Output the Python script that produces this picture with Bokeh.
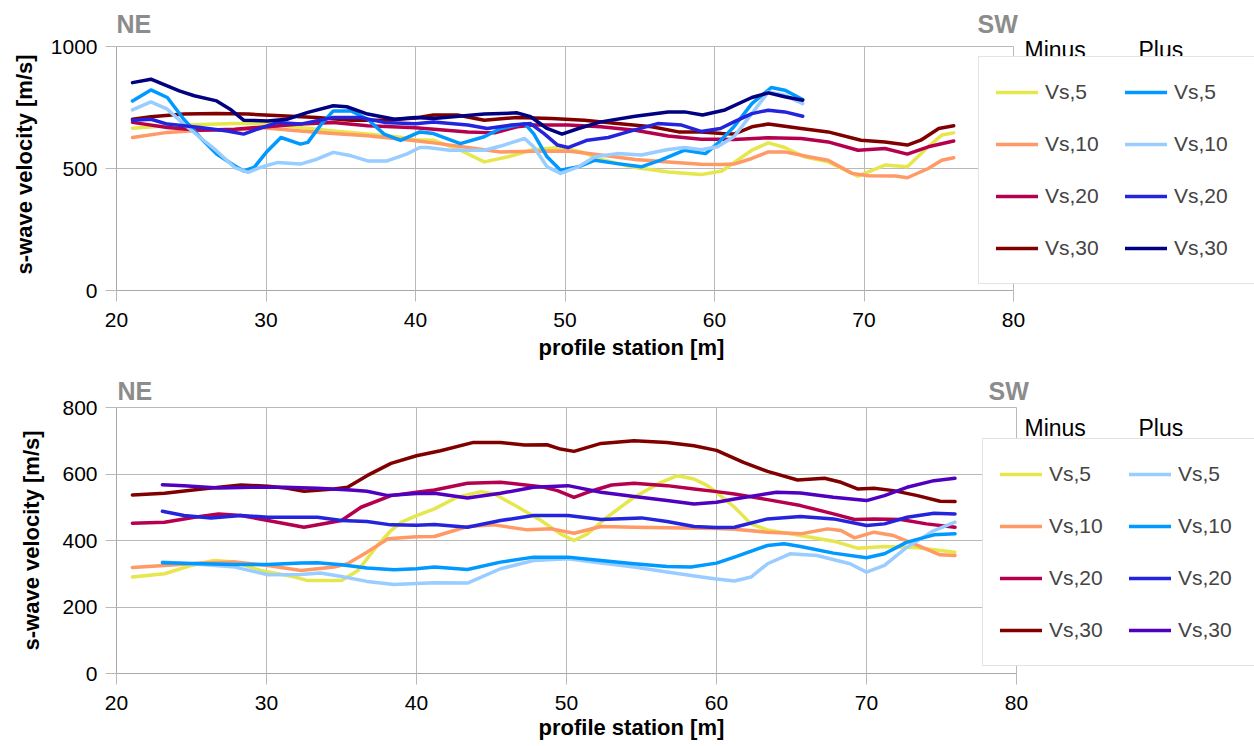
from bokeh.plotting import figure
from bokeh.layouts import column
from bokeh.models import Legend, LegendItem, Label, FixedTicker, Range1d, Title
from bokeh.embed import file_html
from bokeh.resources import INLINE

# ---------------- upper panel: shear-wave velocity (m/s) vs profile station (m)
up_m5_x = [21.07, 23.4, 25.6, 27.9, 30.1, 32.3, 34.5, 36.8, 39.0, 40.0, 41.2, 43.0, 44.6, 46.2, 47.9, 49.7, 51.1, 52.4, 54.7, 56.9, 59.1, 60.5, 62.5, 63.6, 64.7, 66.0, 67.6, 69.6, 71.4, 72.9, 74.3, 75.2, 76.0]
up_m5_v = [665, 675, 680, 684, 684, 668, 654, 641, 628, 618, 616, 575, 527, 548, 578, 586, 568, 537, 504, 486, 475, 490, 575, 605, 586, 548, 527, 469, 514, 507, 589, 637, 646]

up_m10_x = [21.07, 23.4, 25.6, 27.9, 29.6, 32.3, 34.5, 36.8, 40.0, 41.2, 43.5, 45.7, 47.9, 50.2, 52.4, 54.7, 56.9, 59.1, 60.5, 61.3, 62.5, 63.6, 64.7, 66.3, 67.6, 69.2, 70.3, 72.1, 72.9, 74.3, 75.2, 76.0]
up_m10_v = [627, 648, 657, 657, 668, 654, 643, 634, 614, 605, 586, 568, 571, 572, 555, 537, 527, 517, 516, 518, 541, 568, 568, 548, 534, 480, 470, 469, 462, 500, 534, 544]

up_m20_x = [21.07, 23.4, 25.6, 27.9, 30.1, 32.3, 34.5, 36.8, 40.0, 43.5, 45.3, 46.8, 47.9, 50.2, 52.4, 54.7, 56.9, 59.1, 60.5, 61.3, 63.6, 65.8, 67.6, 69.6, 71.4, 72.9, 74.3, 76.0]
up_m20_v = [689, 668, 657, 661, 671, 682, 689, 675, 667, 650, 646, 671, 678, 678, 671, 657, 633, 620, 620, 619, 626, 623, 609, 575, 582, 559, 589, 613]

up_m30_x = [21.07, 22.3, 24.5, 26.7, 28.8, 31.0, 33.4, 35.7, 37.9, 40.0, 41.2, 42.8, 44.6, 46.8, 49.1, 51.3, 53.5, 55.8, 57.6, 59.1, 60.5, 61.3, 62.5, 63.6, 65.8, 67.6, 69.8, 71.4, 72.9, 73.8, 75.0, 76.0]
up_m30_v = [702, 712, 723, 725, 723, 716, 709, 698, 698, 707, 719, 719, 698, 709, 705, 698, 684, 671, 650, 650, 643, 641, 671, 682, 664, 650, 616, 609, 596, 616, 664, 675]

up_p5_x = [21.07, 22.3, 23.4, 24.5, 25.6, 26.7, 27.9, 28.5, 29.2, 30.1, 31.0, 32.3, 32.8, 33.7, 34.5, 35.7, 36.8, 37.9, 39.0, 40.3, 41.2, 43.0, 44.6, 45.7, 47.3, 47.9, 48.8, 49.7, 50.9, 52.0, 53.5, 55.1, 56.4, 58.0, 59.4, 60.2, 61.3, 62.5, 63.8, 64.7, 65.9]
up_p5_v = [777, 822, 791, 702, 627, 559, 511, 490, 504, 572, 627, 600, 607, 682, 736, 736, 702, 641, 615, 650, 643, 602, 630, 664, 684, 643, 548, 493, 507, 534, 520, 507, 534, 575, 561, 602, 671, 766, 832, 821, 783]

up_p10_x = [21.07, 22.3, 23.4, 24.5, 25.6, 26.7, 27.9, 28.8, 29.6, 30.8, 32.3, 33.4, 34.5, 35.7, 36.8, 38.1, 39.4, 40.3, 40.8, 42.3, 44.6, 45.7, 47.3, 47.9, 48.8, 49.7, 50.9, 52.0, 53.5, 55.1, 56.9, 58.0, 59.1, 60.2, 61.3, 62.5, 63.6, 64.7, 65.9]
up_p10_v = [740, 773, 743, 682, 627, 572, 504, 484, 504, 525, 518, 538, 566, 552, 531, 531, 559, 586, 586, 575, 575, 592, 623, 589, 507, 480, 507, 548, 561, 555, 578, 586, 577, 589, 630, 725, 814, 800, 766]

up_p20_x = [21.07, 22.3, 23.4, 25.6, 27.4, 28.5, 29.4, 30.8, 32.3, 34.5, 36.3, 37.9, 40.0, 41.2, 43.5, 44.8, 46.4, 47.7, 48.6, 49.5, 50.2, 51.5, 52.9, 54.2, 56.2, 57.8, 59.1, 60.4, 61.3, 62.5, 63.6, 64.7, 65.9]
up_p20_v = [698, 702, 682, 668, 654, 641, 661, 689, 682, 709, 709, 689, 683, 691, 678, 664, 678, 684, 643, 596, 586, 616, 627, 650, 684, 678, 652, 664, 691, 725, 739, 732, 714]

up_p30_x = [21.07, 22.3, 24.2, 25.2, 26.7, 27.6, 28.5, 30.1, 31.4, 32.8, 34.5, 35.4, 36.8, 38.6, 40.0, 41.2, 44.6, 46.8, 47.7, 48.8, 49.8, 50.9, 52.4, 54.7, 56.9, 58.0, 59.2, 60.7, 62.5, 63.6, 64.7, 65.9]
up_p30_v = [852, 866, 818, 798, 777, 743, 698, 695, 702, 730, 757, 753, 723, 702, 709, 705, 723, 728, 712, 664, 641, 664, 691, 714, 732, 732, 719, 740, 791, 810, 794, 780]

# ---------------- lower panel
lo_m5_x = [21.06, 23.2, 25.0, 26.5, 27.9, 29.6, 31.9, 32.7, 35.0, 36.1, 37.4, 38.3, 39.0, 40.0, 41.2, 42.7, 44.3, 45.2, 46.7, 48.3, 49.6, 50.5, 51.4, 52.7, 54.5, 56.3, 57.4, 58.5, 59.4, 60.0, 61.2, 62.3, 63.4, 65.6, 67.8, 69.4, 71.2, 73.4, 75.9]
lo_m5_v = [290, 300, 325, 340, 335, 310, 290, 280, 280, 310, 385, 430, 455, 475, 495, 530, 547, 540, 502, 460, 420, 400, 420, 470, 530, 575, 595, 585, 565, 545, 500, 450, 432, 415, 398, 377, 382, 378, 365]

lo_m10_x = [21.06, 23.2, 25.7, 27.9, 30.1, 32.3, 34.5, 35.4, 36.7, 38.1, 40.0, 41.2, 43.4, 45.2, 47.4, 49.0, 50.5, 52.3, 54.5, 56.7, 60.0, 61.2, 63.4, 65.6, 67.4, 68.3, 69.2, 70.5, 71.8, 73.4, 74.9, 75.9]
lo_m10_v = [319, 325, 332, 335, 325, 310, 320, 330, 365, 405, 411, 412, 442, 447, 432, 435, 422, 442, 440, 438, 436, 434, 425, 420, 435, 430, 408, 425, 415, 385, 357, 355]

lo_m20_x = [21.06, 23.2, 25.2, 26.8, 28.3, 30.1, 32.5, 35.0, 36.3, 38.3, 40.0, 41.2, 43.4, 45.6, 48.3, 49.4, 50.5, 51.4, 53.0, 54.5, 56.7, 58.5, 60.0, 61.2, 63.4, 65.6, 67.8, 69.2, 70.5, 72.3, 74.0, 75.9]
lo_m20_v = [452, 455, 470, 480, 475, 460, 440, 460, 500, 535, 545, 552, 572, 575, 562, 550, 530, 545, 567, 572, 565, 555, 547, 540, 523, 505, 480, 463, 465, 463, 450, 440]

lo_m30_x = [21.06, 23.2, 25.7, 28.3, 30.1, 31.4, 32.5, 34.5, 35.4, 36.7, 38.3, 40.0, 41.6, 43.8, 45.6, 47.2, 48.7, 49.6, 50.5, 52.3, 54.5, 56.7, 58.5, 60.0, 61.8, 63.4, 65.4, 67.2, 68.3, 69.4, 70.5, 71.8, 73.4, 74.9, 75.9]
lo_m30_v = [537, 542, 555, 567, 563, 557, 548, 555, 560, 595, 632, 655, 670, 695, 695, 687, 688, 675, 668, 692, 700, 695, 685, 671, 635, 608, 582, 587, 575, 555, 557, 550, 535, 518, 517]

lo_p5_x = [23.06, 25.7, 27.9, 30.1, 32.3, 33.6, 35.0, 36.7, 38.5, 40.0, 41.2, 43.4, 45.6, 47.8, 50.1, 52.3, 54.5, 56.7, 59.0, 60.0, 61.2, 62.3, 63.4, 64.9, 66.7, 68.9, 70.0, 71.2, 72.7, 74.5, 75.9]
lo_p5_v = [335, 328, 320, 297, 298, 302, 292, 277, 268, 271, 273, 272, 315, 340, 345, 332, 320, 305, 290, 284, 278, 290, 330, 360, 355, 330, 305, 325, 380, 430, 455]

lo_p10_x = [23.06, 25.7, 27.9, 30.1, 32.3, 33.4, 35.0, 36.7, 38.5, 40.0, 41.2, 43.4, 45.6, 47.8, 50.1, 52.3, 54.5, 56.7, 58.3, 60.0, 61.2, 63.4, 64.5, 65.6, 67.8, 70.0, 71.2, 72.7, 74.5, 75.9]
lo_p10_v = [333, 330, 328, 328, 332, 333, 327, 317, 312, 315, 320, 313, 335, 350, 350, 340, 330, 322, 320, 332, 350, 385, 390, 382, 362, 348, 360, 395, 417, 420]

lo_p20_x = [23.06, 24.5, 26.3, 28.3, 30.1, 32.3, 33.4, 35.0, 36.7, 38.3, 40.0, 41.2, 43.4, 45.6, 47.8, 50.1, 52.3, 55.0, 56.7, 58.5, 60.0, 61.2, 63.4, 65.6, 67.8, 70.0, 71.2, 72.7, 74.5, 75.9]
lo_p20_v = [488, 475, 468, 475, 470, 470, 470, 460, 457, 447, 446, 448, 440, 460, 475, 475, 463, 468, 457, 442, 439, 440, 465, 472, 465, 445, 450, 470, 482, 480]

lo_p30_x = [23.06, 24.5, 26.8, 29.0, 31.2, 33.4, 35.6, 36.7, 38.1, 40.0, 41.2, 43.4, 45.6, 47.8, 50.1, 52.3, 54.5, 56.7, 58.5, 60.0, 61.2, 64.0, 65.6, 67.8, 70.0, 71.2, 72.7, 74.5, 75.9]
lo_p30_v = [568, 565, 558, 560, 560, 557, 552, 548, 535, 541, 542, 528, 542, 560, 565, 545, 532, 520, 510, 515, 525, 545, 543, 530, 520, 535, 560, 580, 587]

labels = ["Vs,5", "Vs,10", "Vs,20", "Vs,30"]
x_ticks = [20, 30, 40, 50, 60, 70, 80]
up_y_ticks = [0, 500, 1000]
lo_y_ticks = [0, 200, 400, 600, 800]

FONT = "Liberation Sans"
GRID = "#b9b9b9"
W = 1254
LEFT = 116

up_minus = [(up_m5_x, up_m5_v, "#E6E64D"), (up_m10_x, up_m10_v, "#FF9966"),
            (up_m20_x, up_m20_v, "#B5004E"), (up_m30_x, up_m30_v, "#800000")]
up_plus = [(up_p5_x, up_p5_v, "#0099FF"), (up_p10_x, up_p10_v, "#99CCFF"),
           (up_p20_x, up_p20_v, "#2424DC"), (up_p30_x, up_p30_v, "#000080")]
lo_minus = [(lo_m5_x, lo_m5_v, "#E6E64D"), (lo_m10_x, lo_m10_v, "#FF9966"),
            (lo_m20_x, lo_m20_v, "#B5004E"), (lo_m30_x, lo_m30_v, "#800000")]
lo_plus = [(lo_p5_x, lo_p5_v, "#99CCFF"), (lo_p10_x, lo_p10_v, "#0099FF"),
           (lo_p20_x, lo_p20_v, "#2424DC"), (lo_p30_x, lo_p30_v, "#5000BF")]


def bold_title(text, **kw):
    return Title(text=text, text_font=FONT, text_font_size="22px",
                 text_font_style="bold", text_color="black", **kw)


def panel(minus, plus, y_ticks, height, bottom, box_w, box_h, legend_at, heads,
          ne_x, sw_x, dir_y, ylab_offset, ylab_standoff, xlab_standoff):
    # The frame reaches the top and right edges of the figure so the legend and
    # the heading texts can sit beside the plotting box; the visible box itself
    # (20..80 m, 0..y_max) is drawn by bounded axes and grid lines.
    frame_w = W - LEFT
    frame_h = height - bottom
    x_end = 20 + 60 * frame_w / box_w
    y_end = y_ticks[-1] * frame_h / box_h
    p = figure(width=W, height=height, output_backend="svg", toolbar_location=None,
               title=None, x_range=Range1d(20, x_end), y_range=Range1d(0, y_end),
               min_border_left=LEFT, min_border_right=0,
               min_border_top=0, min_border_bottom=bottom)
    p.background_fill_color = "white"
    p.border_fill_color = "white"
    p.outline_line_color = None

    for ax, ticks in ((p.xaxis[0], x_ticks), (p.yaxis[0], y_ticks)):
        ax.ticker = FixedTicker(ticks=ticks)
        ax.bounds = (ticks[0], ticks[-1])
        ax.minor_tick_line_color = None
        ax.major_tick_in = 0
        ax.major_tick_out = 11
        ax.major_tick_line_color = GRID
        ax.axis_line_color = "#a8a8a8"
        ax.major_label_text_font = FONT
        ax.major_label_text_font_size = "21px"
        ax.major_label_text_color = "black"
    p.xaxis.major_label_standoff = 11
    p.yaxis.major_label_standoff = 8
    p.xgrid.ticker = FixedTicker(ticks=x_ticks)
    p.ygrid.ticker = FixedTicker(ticks=y_ticks)
    p.xgrid.cross_bounds = (y_ticks[0], y_ticks[-1])
    p.ygrid.cross_bounds = (x_ticks[0], x_ticks[-1])
    p.xgrid.grid_line_color = GRID
    p.ygrid.grid_line_color = GRID

    # axis titles, placed along the plotting box
    p.add_layout(bold_title("profile station [m]", align="left", offset=422,
                            vertical_align="bottom", standoff=xlab_standoff), "below")
    p.add_layout(bold_title("s-wave velocity [m/s]", align="left", offset=ylab_offset,
                            vertical_align="top", standoff=ylab_standoff), "left")

    rm, rp = [], []
    for xs, vs, c in minus:
        rm.append(p.line(xs, vs, line_width=3.5, color=c, line_join="round", line_cap="round"))
    for xs, vs, c in plus:
        rp.append(p.line(xs, vs, line_width=3.5, color=c, line_join="round", line_cap="round"))

    items = [LegendItem(label=lab, renderers=[r]) for lab, r in zip(labels, rm)]
    items += [LegendItem(label=lab, renderers=[r]) for lab, r in zip(labels, rp)]
    leg = Legend(items=items, location=legend_at, orientation="vertical", ncols=2,
                 label_text_font=FONT, label_text_font_size="21px",
                 glyph_width=42, glyph_height=36, label_height=36, label_width=64,
                 label_standoff=7, spacing=16, padding=17, margin=0,
                 border_line_color="#c8c8c8", border_line_width=1,
                 background_fill_color="white", background_fill_alpha=1.0)
    p.add_layout(leg)

    hx, hy = heads
    for txt, dx in (("Minus", 0), ("Plus", 114)):
        p.add_layout(Label(x=hx + dx, y=hy, x_units="screen", y_units="screen", text=txt,
                           text_font=FONT, text_font_size="23px", text_color="black",
                           text_baseline="alphabetic", level="overlay"))
    for txt, x in (("NE", ne_x), ("SW", sw_x)):
        p.add_layout(Label(x=x, y=dir_y, x_units="screen", y_units="screen", text=txt,
                           text_font=FONT, text_font_size="25px", text_font_style="bold",
                           text_color="#8c8c8c", text_baseline="alphabetic", level="overlay"))
    return p


top = panel(up_minus, up_plus, up_y_ticks, 370, 80, 897, 244,
            (862, 6), (908, 241), 0, 861, 267, 16, 18, 6)
bottom = panel(lo_minus, lo_plus, lo_y_ticks, 376, 73, 900, 266,
               (866, 7), (908, 246), 1, 872, 283, 23, 28, 0)

page = column(top, bottom, spacing=0)
open("out.html", "w").write(file_html(page, INLINE))
